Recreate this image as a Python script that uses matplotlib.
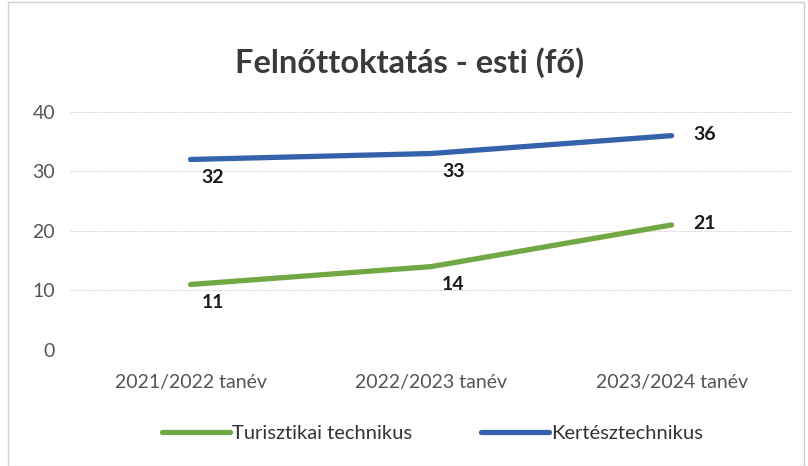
import matplotlib
matplotlib.use("Agg")
import matplotlib.pyplot as plt
from matplotlib.patches import Rectangle

categories = ["2021/2022 tanév", "2022/2023 tanév", "2023/2024 tanév"]
turisztikai = [11, 14, 21]
kertesz = [32, 33, 36]
yticks = [0, 10, 20, 30, 40]

plt.rcParams["font.family"] = ["Lato", "DejaVu Sans"]

fig = plt.figure(figsize=(8.08, 4.66), dpi=100)
ax = fig.add_axes([0.087, 0.249, 0.893, 0.511])

x = list(range(len(categories)))
green = "#72a843"
blue = "#3463ab"
ax.plot(x, turisztikai, color=green, linewidth=3.8, solid_capstyle="round", label="Turisztikai technikus", zorder=3)
ax.plot(x, kertesz, color=blue, linewidth=3.8, solid_capstyle="round", label="Kertésztechnikus", zorder=3)

# data labels: below for first two, right for last
for series in (turisztikai, kertesz):
    for i, v in enumerate(series):
        if i < len(series) - 1:
            ax.annotate(str(v), (i, v), xytext=(16, -13), textcoords="offset points",
                        ha="center", va="center", fontsize=14, fontweight="bold", color="#1a1a1a")
        else:
            ax.annotate(str(v), (i, v), xytext=(24, 1), textcoords="offset points",
                        ha="center", va="center", fontsize=14, fontweight="bold", color="#1a1a1a")

ax.set_xlim(-0.5, 2.5)
ax.set_ylim(0, 40)
ax.set_yticks(yticks)
ax.set_xticks(x)
ax.set_xticklabels(categories)
ax.tick_params(axis="both", length=0, labelsize=14, labelcolor="#555555")
ax.tick_params(axis="y", pad=11)
ax.tick_params(axis="x", pad=17)
ax.grid(axis="y", color="#cfcfcf", linewidth=0.8, linestyle=(0, (1, 1)))
ax.set_axisbelow(True)
for s in ax.spines.values():
    s.set_visible(False)

fig.text(0.507, 0.866, "Felnőttoktatás - esti (fő)", ha="center", va="center",
         fontsize=23.5, fontweight="bold", color="#3a3a3a")

fig.legend(loc="center", bbox_to_anchor=(0.535, 0.069), ncol=2, frameon=False,
           fontsize=14.5, handlelength=3.4, handletextpad=0.1, columnspacing=3.4,
           labelcolor="#333333")

fig.patches.append(Rectangle((0.01, 0.0), 0.985, 0.995, transform=fig.transFigure,
                             fill=False, edgecolor="#d0d0d0", linewidth=1))

fig.savefig("out.png", dpi=100, facecolor="white")
